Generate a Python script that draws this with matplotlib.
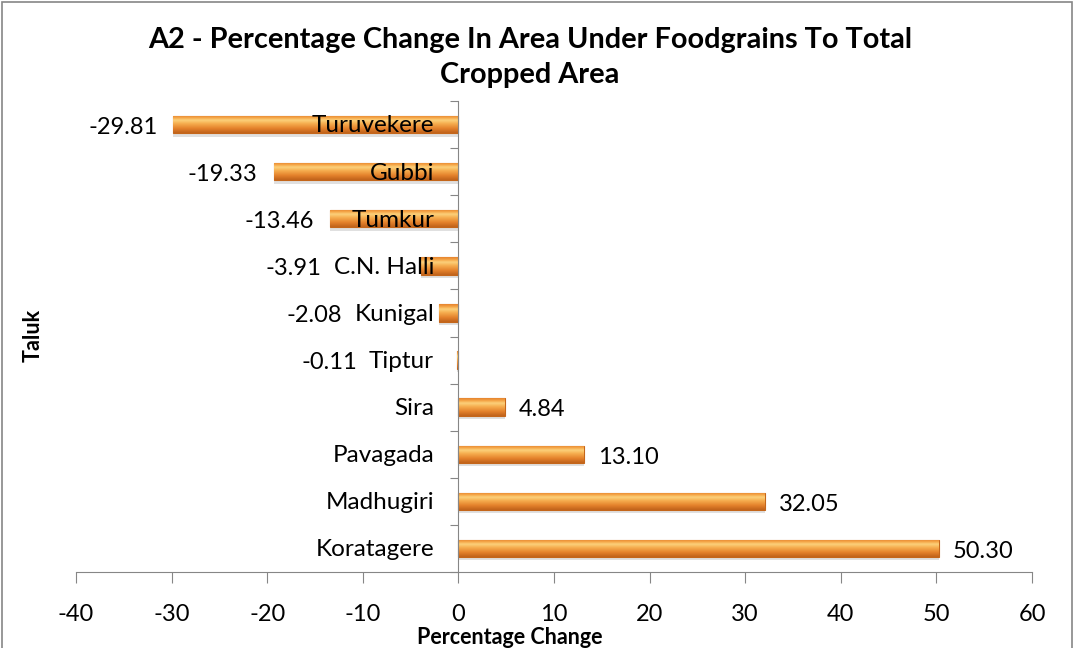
import matplotlib
matplotlib.use("Agg")
import matplotlib.pyplot as plt
import numpy as np
from matplotlib.colors import LinearSegmentedColormap
from matplotlib.patches import Rectangle

talukas = ["Koratagere", "Madhugiri", "Pavagada", "Sira", "Tiptur",
           "Kunigal", "C.N. Halli", "Tumkur", "Gubbi", "Turuvekere"]
values = [50.30, 32.05, 13.10, 4.84, -0.11, -2.08, -3.91, -13.46, -19.33, -29.81]
value_labels = ["50.30", "32.05", "13.10", "4.84", "-0.11", "-2.08", "-3.91",
                "-13.46", "-19.33", "-29.81"]
xticks = [-40, -30, -20, -10, 0, 10, 20, 30, 40, 50, 60]

plt.rcParams['font.family'] = ['Lato', 'DejaVu Sans']

W, H = 1074, 648
fig = plt.figure(figsize=(W / 100, H / 100), dpi=100)
ax = fig.add_axes([76 / W, 1 - 572 / H, (1032 - 76) / W, (572 - 101) / H])

y = np.arange(len(talukas))
bh = 0.37
# shadows
ax.barh(y - 0.07, values, height=bh, color='#9a9a9a', alpha=0.3,
        zorder=1, linewidth=0)
bars = ax.barh(y, values, height=bh, color='#E8862C', edgecolor='#C4661A',
               linewidth=0.8, zorder=2)

cmap = LinearSegmentedColormap.from_list(
    "bevel", [(0.0, '#BF621B'), (0.25, '#E4812B'), (0.55, '#F7B152'),
              (0.72, '#FCD27E'), (0.85, '#F6A849'), (1.0, '#E5832E')])
grad = np.linspace(0, 1, 64).reshape(-1, 1)
for b in bars:
    x0, yb = b.get_x(), b.get_y()
    w, h = b.get_width(), b.get_height()
    im = ax.imshow(grad, cmap=cmap, aspect='auto', origin='lower',
                   extent=[x0, x0 + w, yb, yb + h], zorder=3,
                   interpolation='bicubic')
    im.set_clip_path(b)

ax.set_xlim(-40, 60)
ax.set_ylim(-0.5, len(talukas) - 0.5)

# category labels placed beside the zero axis
cat_texts = []
for name, yi in zip(talukas, y):
    t = ax.annotate(name, (0, yi), xytext=(-17.5, -1), textcoords='offset points',
                    ha='right', va='center', fontsize=17.5, color='black', zorder=6)
    cat_texts.append(t)

fig.canvas.draw()
renderer = fig.canvas.get_renderer()

for v, lab, yi, ct in zip(values, value_labels, y, cat_texts):
    if v >= 0:
        ax.annotate(lab, (v, yi), xytext=(10, -2), textcoords='offset points',
                    ha='left', va='center', fontsize=17, color='black', zorder=6)
    else:
        bar_end_px = ax.transData.transform((v, yi))[0]
        cat_left_px = ct.get_window_extent(renderer).x0
        right_px = min(bar_end_px - 16, cat_left_px - 12)
        xd = ax.transData.inverted().transform((right_px, 0))[0]
        ax.annotate(lab, (xd, yi), xytext=(0, -2), textcoords='offset points',
                    ha='right', va='center', fontsize=17, color='black', zorder=6)

ax.set_xticks(xticks)
ax.set_xticklabels([str(t) for t in xticks], fontsize=17)
ax.set_yticks(np.arange(-0.5, len(talukas), 1.0))
ax.set_yticklabels([])

for s in ['top', 'right']:
    ax.spines[s].set_visible(False)
ax.spines['left'].set_position(('data', 0))
ax.spines['left'].set_color('#868686')
ax.spines['left'].set_zorder(4)
ax.spines['bottom'].set_color('#868686')
ax.tick_params(axis='y', length=6, color='#868686', direction='out')
ax.tick_params(axis='x', length=8, color='#868686', direction='out', pad=15)

fig.text(530 / W, 1 - 40 / H, "A2 - Percentage Change In Area Under Foodgrains To Total",
         ha='center', va='center', fontsize=20.8, fontweight='bold')
fig.text(530 / W, 1 - 75 / H, "Cropped Area",
         ha='center', va='center', fontsize=20.8, fontweight='bold')
fig.text(510 / W, 1 - 637 / H, "Percentage Change", ha='center', va='center',
         fontsize=15.5, fontweight='bold')
fig.text(33 / W, 1 - 335 / H, "Taluk", ha='center', va='center', rotation=90,
         fontsize=15.5, fontweight='bold')

fig.patches.append(Rectangle((2 / W, -0.01), (W - 4) / W, 1 - 2 / H + 0.01,
                             transform=fig.transFigure, fill=False,
                             edgecolor='#868686', linewidth=1.2))

fig.savefig("out.png", dpi=100)
